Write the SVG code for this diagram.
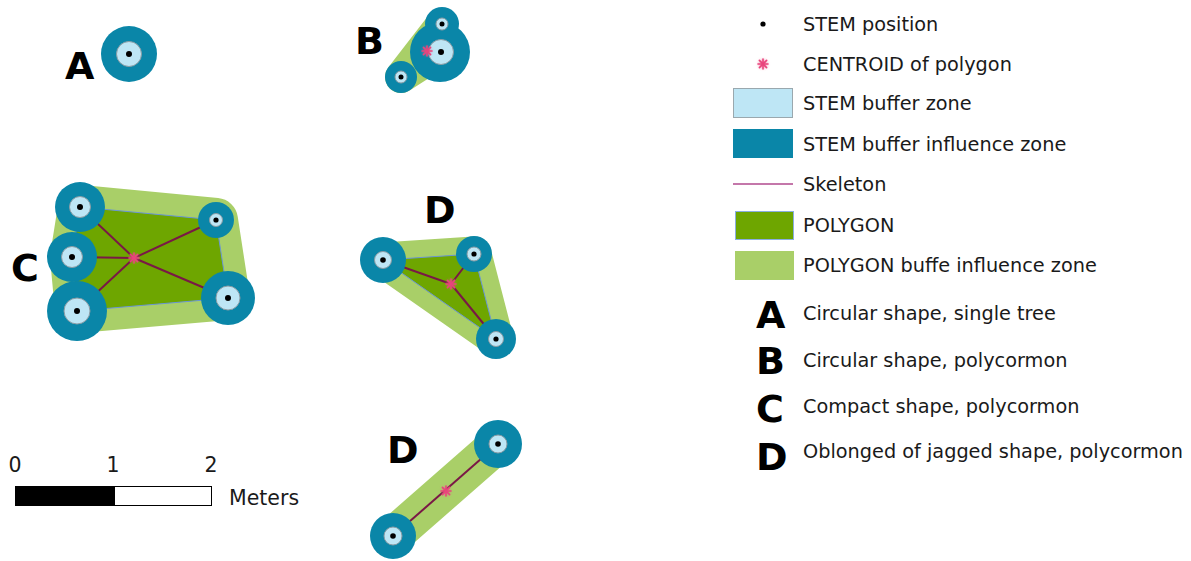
<svg xmlns="http://www.w3.org/2000/svg" width="1191" height="561" viewBox="0 0 1191 561">
  <style>
    .inf { fill: #0a86a8; }
    .buf { fill: #bee6f5; stroke: #8c9ca4; stroke-width: 1; }
    .stem { fill: #000; }
    .pbuf { fill: #a9cf68; stroke: #a9cf68; stroke-linejoin: round; stroke-linecap: round; }
    .poly { fill: #6ea600; stroke: #6a95d6; stroke-width: 1; }
    .skel { stroke: #7a1846; stroke-width: 2; fill: none; }
    .cen { stroke: #e8457c; stroke-width: 1.6; stroke-linecap: round; }
    .glow { fill: #f05a8c; opacity: 0.55; filter: url(#soft); }
    .big { font-family: "DejaVu Sans", Verdana, sans-serif; font-weight: bold; font-size: 38px; fill: #000; }
    .lg { font-family: "DejaVu Sans", Verdana, sans-serif; font-size: 19.3px; fill: #1a1a1a; }
    .sc { font-family: "DejaVu Sans", Verdana, sans-serif; font-size: 20.5px; fill: #1a1a1a; }
  </style>
  <defs>
    <filter id="soft" x="-1" y="-1" width="3" height="3">
      <feGaussianBlur stdDeviation="1.6"/>
    </filter>
    <g id="centroid">
      <circle class="glow" cx="0" cy="0" r="4.5"/>
      <line class="cen" x1="-5" y1="0" x2="5" y2="0"/>
      <line class="cen" x1="0" y1="-5" x2="0" y2="5"/>
      <line class="cen" x1="-3.6" y1="-3.6" x2="3.6" y2="3.6"/>
      <line class="cen" x1="-3.6" y1="3.6" x2="3.6" y2="-3.6"/>
    </g>
  </defs>

  <rect width="1191" height="561" fill="#fff"/>

  <!-- A: single tree -->
  <g id="shape-A">
    <text class="big" x="65" y="79">A</text>
    <circle class="inf" cx="129" cy="54" r="28"/>
    <circle class="buf" cx="129" cy="54" r="12.5"/>
    <circle class="stem" cx="129" cy="54" r="3"/>
  </g>

  <!-- B: circular polycormon -->
  <g id="shape-B">
    <text class="big" x="355" y="54">B</text>
    <polygon class="pbuf" stroke-width="32" points="401,77 442,24 440,52"/>
    <circle class="inf" cx="401" cy="77" r="16"/>
    <circle class="buf" cx="401" cy="77" r="6"/>
    <circle class="stem" cx="401" cy="77" r="2.5"/>
    <circle class="inf" cx="442" cy="24" r="17"/>
    <circle class="inf" cx="440" cy="52" r="30"/>
    <circle class="buf" cx="442" cy="24" r="6"/>
    <circle class="stem" cx="442" cy="24" r="2.5"/>
    <circle class="buf" cx="441" cy="52" r="12.5"/>
    <circle class="stem" cx="441" cy="52" r="3"/>
    <use href="#centroid" x="427" y="51"/>
  </g>

  <!-- C: compact polycormon -->
  <g id="shape-C">
    <text class="big" x="11" y="281">C</text>
    <polygon class="pbuf" stroke-width="44" points="80,207 216,220 228,298 77,311 72,257"/>
    <polygon class="poly" points="80,207 216,220 228,298 77,311 72,257"/>
    <g class="skel">
      <line x1="134" y1="258" x2="80" y2="207"/>
      <line x1="134" y1="258" x2="216" y2="220"/>
      <line x1="134" y1="258" x2="228" y2="298"/>
      <line x1="134" y1="258" x2="77" y2="311"/>
      <line x1="134" y1="258" x2="72" y2="257"/>
    </g>
    <use href="#centroid" x="134" y="258"/>
    <circle class="inf" cx="80" cy="207" r="25"/>
    <circle class="buf" cx="80" cy="207" r="10.5"/>
    <circle class="stem" cx="80" cy="207" r="3"/>
    <circle class="inf" cx="72" cy="257" r="25"/>
    <circle class="buf" cx="72" cy="257" r="10.5"/>
    <circle class="stem" cx="72" cy="257" r="3"/>
    <circle class="inf" cx="77" cy="311" r="30"/>
    <circle class="buf" cx="77" cy="311" r="13"/>
    <circle class="stem" cx="77" cy="311" r="3"/>
    <circle class="inf" cx="216" cy="220" r="18"/>
    <circle class="buf" cx="216" cy="220" r="6.5"/>
    <circle class="stem" cx="216" cy="220" r="2.6"/>
    <circle class="inf" cx="228" cy="298" r="27"/>
    <circle class="buf" cx="228" cy="298" r="12"/>
    <circle class="stem" cx="228" cy="298" r="3"/>
  </g>

  <!-- D: triangular polycormon -->
  <g id="shape-D1">
    <text class="big" x="424" y="223">D</text>
    <polygon class="pbuf" stroke-width="35" points="383,260 474,254 496,339"/>
    <polygon class="poly" points="383,260 474,254 496,339"/>
    <g class="skel">
      <line x1="451" y1="284" x2="383" y2="260"/>
      <line x1="451" y1="284" x2="474" y2="254"/>
      <line x1="451" y1="284" x2="496" y2="339"/>
    </g>
    <use href="#centroid" x="451" y="284"/>
    <circle class="inf" cx="383" cy="260" r="23"/>
    <circle class="buf" cx="383" cy="260" r="8.5"/>
    <circle class="stem" cx="383" cy="260" r="2.8"/>
    <circle class="inf" cx="474" cy="254" r="18"/>
    <circle class="buf" cx="474" cy="254" r="7"/>
    <circle class="stem" cx="474" cy="254" r="2.6"/>
    <circle class="inf" cx="496" cy="339" r="20"/>
    <circle class="buf" cx="496" cy="339" r="7.5"/>
    <circle class="stem" cx="496" cy="339" r="2.6"/>
  </g>

  <!-- D: oblong polycormon -->
  <g id="shape-D2">
    <text class="big" x="387" y="463">D</text>
    <line class="pbuf" stroke-width="38" x1="393" y1="536" x2="498" y2="444"/>
    <line class="skel" x1="393" y1="536" x2="498" y2="444"/>
    <use href="#centroid" x="446" y="491"/>
    <circle class="inf" cx="498" cy="444" r="24"/>
    <circle class="buf" cx="498" cy="444" r="9"/>
    <circle class="stem" cx="498" cy="444" r="2.8"/>
    <circle class="inf" cx="393" cy="536" r="23"/>
    <circle class="buf" cx="393" cy="536" r="9"/>
    <circle class="stem" cx="393" cy="536" r="2.8"/>
  </g>

  <!-- scale bar -->
  <g id="scalebar">
    <text class="sc" x="15" y="472" text-anchor="middle">0</text>
    <text class="sc" x="113" y="472" text-anchor="middle">1</text>
    <text class="sc" x="211" y="472" text-anchor="middle">2</text>
    <rect x="15.5" y="486.5" width="99" height="19" fill="#000" stroke="#000"/>
    <rect x="114.5" y="486.5" width="97" height="19" fill="#fff" stroke="#000"/>
    <text class="sc" x="229" y="505" font-size="20">Meters</text>
  </g>

  <!-- legend -->
  <g id="legend">
    <circle cx="763" cy="24" r="2.6" fill="#000"/>
    <text class="lg" x="803" y="31">STEM position</text>

    <use href="#centroid" x="763" y="64"/>
    <text class="lg" x="803" y="71">CENTROID of polygon</text>

    <rect x="733.5" y="88.5" width="59" height="29" fill="#bee6f5" stroke="#9aa8ae"/>
    <text class="lg" x="803" y="110">STEM buffer zone</text>

    <rect x="733" y="129" width="60" height="29" fill="#0a86a8"/>
    <text class="lg" x="803" y="151">STEM buffer influence zone</text>

    <line x1="733" y1="184" x2="793" y2="184" stroke="#b04a8e" stroke-width="1.6"/>
    <text class="lg" x="803" y="191">Skeleton</text>

    <rect x="735.5" y="211.5" width="58" height="28" fill="#6ea600" stroke="#8aaee0"/>
    <text class="lg" x="803" y="232">POLYGON</text>

    <rect x="735" y="251" width="59" height="29" fill="#a9cf68"/>
    <text class="lg" x="803" y="272">POLYGON buffe influence zone</text>

    <text class="big" x="756" y="328">A</text>
    <text class="lg" x="803" y="320">Circular shape, single tree</text>

    <text class="big" x="756" y="374">B</text>
    <text class="lg" x="803" y="367">Circular shape, polycormon</text>

    <text class="big" x="756" y="422">C</text>
    <text class="lg" x="803" y="413">Compact shape, polycormon</text>

    <text class="big" x="756" y="470">D</text>
    <text class="lg" x="803" y="458">Oblonged of jagged shape, polycormon</text>
  </g>
</svg>
